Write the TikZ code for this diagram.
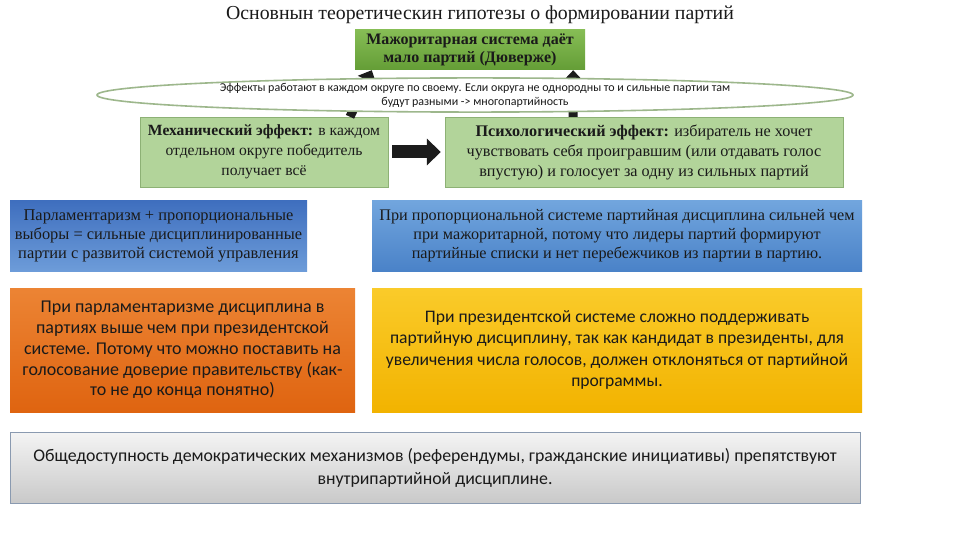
\documentclass[tikz,border=0pt]{standalone}
\usepackage{fontspec}
\setmainfont{Liberation Serif}
\newfontfamily\calfont{Carlito}
\usetikzlibrary{arrows.meta,shapes.geometric,calc}
\definecolor{txt}{HTML}{1A1A1A}
\definecolor{gtopA}{HTML}{86BD55}
\definecolor{gtopB}{HTML}{649D36}
\definecolor{glight}{HTML}{B2D49A}
\definecolor{gline}{HTML}{8DB175}
\definecolor{bluA}{HTML}{3E6EBE}
\definecolor{bluB}{HTML}{6D9CD9}
\definecolor{bluC}{HTML}{72A6DE}
\definecolor{bluD}{HTML}{4A82C8}
\definecolor{oraA}{HTML}{EC8434}
\definecolor{oraB}{HTML}{DF6410}
\definecolor{yelA}{HTML}{FACB2A}
\definecolor{yelB}{HTML}{F2B300}
\definecolor{gryA}{HTML}{F4F4F4}
\definecolor{gryB}{HTML}{C9C9C9}
\definecolor{gryline}{HTML}{8A9AB0}
\definecolor{ellline}{HTML}{9DB78C}
\definecolor{arr}{HTML}{1C1C1C}
\tikzset{
  box/.style={rectangle, inner sep=0pt, align=center, text=txt},
  serifbox/.style={box, font=\fontsize{16}{20}\selectfont},
  calbox/.style={box, font=\calfont\fontsize{17.5}{20.8}\selectfont},
  blockarrow/.style={draw=arr, line width=9pt, -{Triangle[length=11pt,width=20pt]}},
}
\begin{document}
\begin{tikzpicture}[x=1pt,y=-1pt]
\useasboundingbox (0,0) rectangle (960,540);
\fill[white] (0,0) rectangle (960,540);

\node[box, font=\fontsize{19.8}{22}\selectfont] (title) at (480,15) {Основнын теоретическин гипотезы о формировании партий};

\node[box, minimum width=230pt, minimum height=40pt, top color=gtopA, bottom color=gtopB,
  font=\bfseries\fontsize{16}{18}\selectfont] (top) at (470,50)
  {Мажоритарная система даёт\\мало партий (Дюверже)};

\node[serifbox, minimum width=248pt, minimum height=70pt, fill=glight, draw=gline,
  font=\fontsize{15.6}{20}\selectfont] (mech) at (264,152)
  {\textbf{Механический эффект:} в каждом\\отдельном округе победитель\\получает всё};

\node[serifbox, minimum width=398pt, minimum height=70pt, fill=glight, draw=gline,
  font=\fontsize{16.2}{20}\selectfont] (psych) at (644,152)
  {\textbf{Психологический эффект:} избиратель не хочет\\чувствовать себя проигравшим (или отдавать голос\\впустую) и голосует за одну из сильных партий};

\draw[blockarrow] ([xshift=86pt]mech.north) -- ([xshift=17pt]top.south west);
\draw[blockarrow] ([xshift=-71pt]psych.north) -- ([xshift=-12pt]top.south east);
\draw[draw=arr, line width=13pt, -{Triangle[length=14pt,width=26pt]}] ([xshift=4pt]mech.east) -- ([xshift=-4pt]psych.west);

\node[ellipse, minimum width=756pt, minimum height=30pt, inner sep=0pt, fill=white, draw=ellline, line width=1.6pt,
  align=center, text=txt, font=\calfont\fontsize{12}{14}\selectfont] (ell) at (475,95)
  {Эффекты работают в каждом округе по своему. Если округа не однородны то и сильные партии там\\будут разными -> многопартийность};

\node[serifbox, minimum width=297pt, minimum height=71pt, top color=bluA, bottom color=bluB,
  font=\fontsize{16.4}{19}\selectfont] (blueL) at (158.5,235.5)
  {Парламентаризм + пропорциональные\\выборы = сильные дисциплинированные\\партии с развитой системой управления};

\node[serifbox, minimum width=490pt, minimum height=71pt, top color=bluC, bottom color=bluD,
  font=\fontsize{16.2}{19}\selectfont] (blueR) at (617,235.5)
  {При пропорциональной системе партийная дисциплина сильней чем\\при мажоритарной, потому что лидеры партий формируют\\партийные списки и нет перебежчиков из партии в партию.};

\node[calbox, minimum width=345pt, minimum height=124pt, top color=oraA, bottom color=oraB,
  font=\calfont\fontsize{18}{20.8}\selectfont] (orange) at (182.5,350)
  {При парламентаризме дисциплина в\\партиях выше чем при президентской\\системе. Потому что можно поставить на\\голосование доверие правительству (как-\\то не до конца понятно)};

\node[calbox, minimum width=490pt, minimum height=124pt, top color=yelA, bottom color=yelB,
  font=\calfont\fontsize{17.6}{21.3}\selectfont] (yellow) at (617,350)
  {При президентской системе сложно поддерживать\\партийную дисциплину, так как кандидат в президенты, для\\увеличения числа голосов, должен отклоняться от партийной\\программы.};

\node[calbox, minimum width=850pt, minimum height=71pt, top color=gryA, bottom color=gryB, draw=gryline,
  font=\calfont\fontsize{17.8}{23}\selectfont] (gray) at (435,467.5)
  {Общедоступность демократических механизмов (референдумы, гражданские инициативы) препятствуют\\внутрипартийной дисциплине.};
\end{tikzpicture}
\end{document}
